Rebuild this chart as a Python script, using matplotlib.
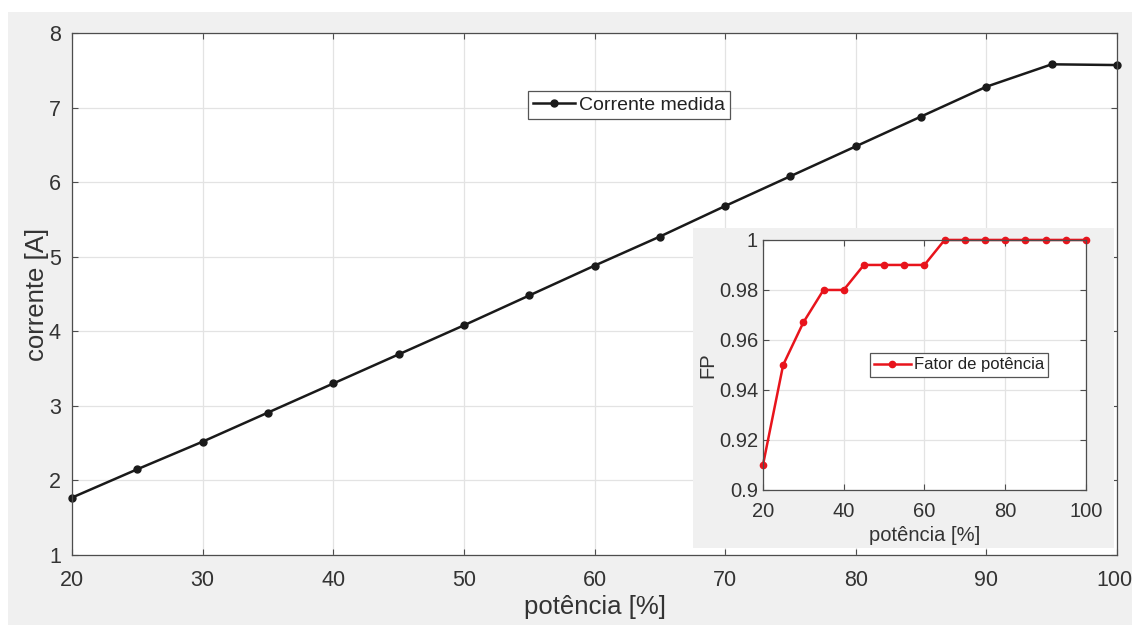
import matplotlib.pyplot as plt
import matplotlib.transforms as mtransforms
from matplotlib.patches import Rectangle

plt.rcParams['font.family'] = ['Liberation Sans', 'DejaVu Sans']

potencia = [20, 25, 30, 35, 40, 45, 50, 55, 60, 65, 70, 75, 80, 85, 90, 95, 100]
corrente = [1.77, 2.15, 2.52, 2.91, 3.30, 3.69, 4.08, 4.48, 4.88, 5.27,
            5.68, 6.08, 6.48, 6.88, 7.28, 7.58, 7.57]
fp = [0.91, 0.95, 0.967, 0.98, 0.98, 0.99, 0.99, 0.99, 0.99, 1.0,
      1.0, 1.0, 1.0, 1.0, 1.0, 1.0, 1.0]

main_xticks = [20, 30, 40, 50, 60, 70, 80, 90, 100]
main_yticks = [1, 2, 3, 4, 5, 6, 7, 8]
inset_xticks = [20, 40, 60, 80, 100]
inset_yticks = [0.9, 0.92, 0.94, 0.96, 0.98, 1]
inset_ylabels = ['0.9', '0.92', '0.94', '0.96', '0.98', '1']

bg = '#f0f0f0'
txt = '#333333'
edge = '#4d4d4d'

fig = plt.figure(figsize=(11.32, 6.26), dpi=100, facecolor='white')
# fundo cinza estilo MATLAB
fig.patches.append(Rectangle((8 / 1132, 1 / 626), 1 - 8 / 1132, 613 / 626,
                             transform=fig.transFigure, facecolor=bg,
                             edgecolor='none', zorder=-10))


def estilo(ax, fs):
    ax.set_facecolor('white')
    ax.grid(True, color='#e3e3e3', linewidth=0.9)
    ax.set_axisbelow(True)
    ax.tick_params(direction='in', top=True, right=True, length=4,
                   width=0.8, colors=edge, labelcolor=txt, labelsize=fs)
    for s in ax.spines.values():
        s.set_color(edge)
        s.set_linewidth(0.9)


ax = fig.add_axes([0.0636, 0.1134, 0.9232, 0.8339], zorder=1)
ax.plot(potencia, corrente, '-o', color='#1a1a1a', linewidth=1.8,
        markersize=5, label='Corrente medida', clip_on=False)
ax.set_xlim(20, 100)
ax.set_ylim(1, 8)
ax.set_xticks(main_xticks)
ax.set_yticks(main_yticks)
estilo(ax, 15.5)
ax.tick_params(axis='x', pad=11)
ax.tick_params(axis='y', pad=8)
ax.set_xlabel('potência [%]', fontsize=18.5, color=txt, labelpad=3)
ax.set_ylabel('corrente [A]', fontsize=18.5, color=txt, labelpad=0)
# o ultimo rotulo fica um pouco para dentro
lbl = ax.get_xticklabels()[-1]
lbl.set_transform(lbl.get_transform() +
                  mtransforms.ScaledTranslation(-3 / 100, 0, fig.dpi_scale_trans))
leg = ax.legend(loc='center', bbox_to_anchor=(0.533, 0.862), fontsize=14,
                fancybox=False, framealpha=1, edgecolor='#555555',
                handlelength=2.2, handletextpad=0.2, borderpad=0.25,
                borderaxespad=0)
leg.get_frame().set_linewidth(0.9)
for t in leg.get_texts():
    t.set_color('#222222')

# figura do fator de potência inserida
fig.patches.append(Rectangle((0.612, 0.1246), 0.372, 0.511,
                             transform=fig.transFigure, facecolor=bg,
                             edgecolor='none', zorder=5))
ins = fig.add_axes([0.674, 0.2173, 0.2853, 0.3994], zorder=10)
ins.plot(potencia, fp, '-o', color='#e8141c', linewidth=1.8,
         markersize=4.5, label='Fator de potência', clip_on=False)
ins.set_xlim(20, 100)
ins.set_ylim(0.9, 1)
ins.set_xticks(inset_xticks)
ins.set_yticks(inset_yticks)
ins.set_yticklabels(inset_ylabels)
estilo(ins, 14.5)
ins.tick_params(axis='x', pad=9)
ins.set_xlabel('potência [%]', fontsize=14.5, color=txt, labelpad=3)
ins.set_ylabel('FP', fontsize=14.5, color=txt, labelpad=1)
leg2 = ins.legend(loc='center', bbox_to_anchor=(0.607, 0.5), fontsize=12,
                  fancybox=False, framealpha=1, edgecolor='#555555',
                  handlelength=2.2, handletextpad=0.2, borderpad=0.25,
                  borderaxespad=0)
leg2.get_frame().set_linewidth(0.9)
for t in leg2.get_texts():
    t.set_color('#222222')

fig.savefig('out.png', dpi=100, facecolor='white')
